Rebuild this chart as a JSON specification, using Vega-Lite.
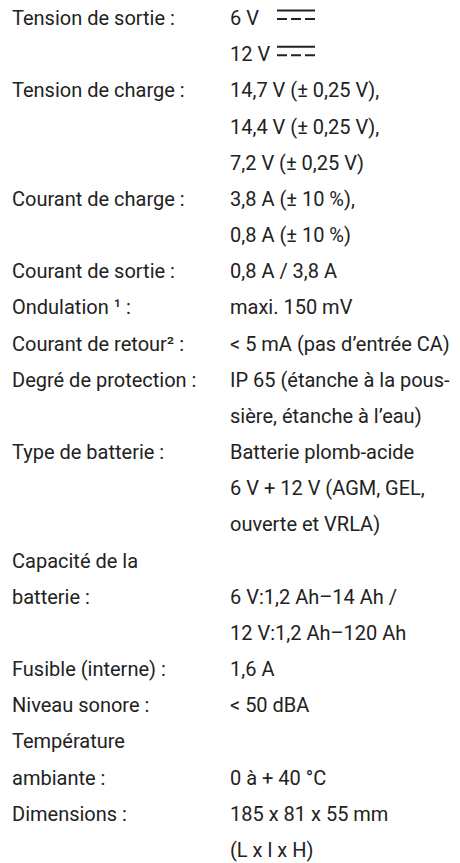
{
  "$schema": "https://vega.github.io/schema/vega-lite/v6.json",
  "width": 460,
  "height": 863,
  "autosize": {"type": "fit", "contains": "padding"},
  "padding": 0,
  "background": "#ffffff",
  "config": {"view": {"stroke": null}},
  "datasets": {
    "rows": [
      {"line": 0, "col": "label", "text": "Tension de sortie :"},
      {"line": 0, "col": "value", "text": "6 V"},
      {"line": 1, "col": "value", "text": "12 V"},
      {"line": 2, "col": "label", "text": "Tension de charge :"},
      {"line": 2, "col": "value", "text": "14,7 V (± 0,25 V),"},
      {"line": 3, "col": "value", "text": "14,4 V (± 0,25 V),"},
      {"line": 4, "col": "value", "text": "7,2 V (± 0,25 V)"},
      {"line": 5, "col": "label", "text": "Courant de charge :"},
      {"line": 5, "col": "value", "text": "3,8 A (± 10 %),"},
      {"line": 6, "col": "value", "text": "0,8 A (± 10 %)"},
      {"line": 7, "col": "label", "text": "Courant de sortie :"},
      {"line": 7, "col": "value", "text": "0,8 A / 3,8 A"},
      {"line": 8, "col": "label", "text": "Ondulation ¹ :"},
      {"line": 8, "col": "value", "text": "maxi. 150 mV"},
      {"line": 9, "col": "label", "text": "Courant de retour² :"},
      {"line": 9, "col": "value", "text": "< 5 mA (pas d’entrée CA)"},
      {"line": 10, "col": "label", "text": "Degré de protection :"},
      {"line": 10, "col": "value", "text": "IP 65 (étanche à la pous-"},
      {"line": 11, "col": "value", "text": "sière, étanche à l’eau)"},
      {"line": 12, "col": "label", "text": "Type de batterie :"},
      {"line": 12, "col": "value", "text": "Batterie plomb-acide"},
      {"line": 13, "col": "value", "text": "6 V + 12 V (AGM, GEL,"},
      {"line": 14, "col": "value", "text": "ouverte et VRLA)"},
      {"line": 15, "col": "label", "text": "Capacité de la"},
      {"line": 16, "col": "label", "text": "batterie :"},
      {"line": 16, "col": "value", "text": "6 V:1,2 Ah–14 Ah /"},
      {"line": 17, "col": "value", "text": "12 V:1,2 Ah–120 Ah"},
      {"line": 18, "col": "label", "text": "Fusible (interne) :"},
      {"line": 18, "col": "value", "text": "1,6 A"},
      {"line": 19, "col": "label", "text": "Niveau sonore :"},
      {"line": 19, "col": "value", "text": "< 50 dBA"},
      {"line": 20, "col": "label", "text": "Température"},
      {"line": 21, "col": "label", "text": "ambiante :"},
      {"line": 21, "col": "value", "text": "0 à + 40 °C"},
      {"line": 22, "col": "label", "text": "Dimensions :"},
      {"line": 22, "col": "value", "text": "185 x 81 x 55 mm"},
      {"line": 23, "col": "value", "text": "(L x l x H)"}
    ],
    "dcsymbols": [
      {"line": 0, "col": "value"},
      {"line": 1, "col": "value"}
    ]
  },
  "encoding": {
    "y": {"field": "line", "type": "quantitative", "axis": null, "scale": {"domain": [0, 23], "range": [25, 857], "zero": false, "nice": false}}
  },
  "layer": [
    {
      "data": {"name": "rows"},
      "mark": {"type": "text", "align": "left", "baseline": "alphabetic", "font": "Roboto", "fontSize": 20, "color": "#222222"},
      "encoding": {
        "x": {"field": "col", "type": "nominal", "axis": null, "scale": {"type": "point", "domain": ["label", "value"], "range": [12, 230], "padding": 0}},
        "text": {"field": "text", "type": "nominal"}
      }
    },
    {
      "data": {"name": "dcsymbols"},
      "mark": {"type": "rule", "xOffset": 47, "x2Offset": 85, "yOffset": -14.5, "strokeWidth": 2, "color": "#222222"},
      "encoding": {
        "x": {"field": "col", "type": "nominal", "axis": null, "scale": {"type": "point", "domain": ["label", "value"], "range": [12, 230], "padding": 0}},
        "x2": {"field": "col"}
      }
    },
    {
      "data": {"name": "dcsymbols"},
      "mark": {"type": "rule", "xOffset": 47, "x2Offset": 85, "yOffset": -6, "strokeWidth": 2, "strokeDash": [10, 4], "color": "#222222"},
      "encoding": {
        "x": {"field": "col", "type": "nominal", "axis": null, "scale": {"type": "point", "domain": ["label", "value"], "range": [12, 230], "padding": 0}},
        "x2": {"field": "col"}
      }
    }
  ]
}
